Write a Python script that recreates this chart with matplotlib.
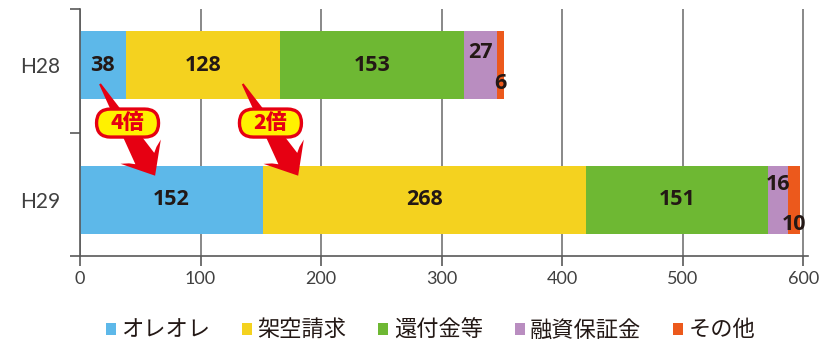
import matplotlib
matplotlib.use("Agg")
import numpy as np
import matplotlib.pyplot as plt
from matplotlib.patches import Patch, Polygon, FancyBboxPatch
from matplotlib.transforms import IdentityTransform, Affine2D

# Fraud cases by type (counts)
years = ["H28", "H29"]
categories = ["オレオレ", "架空請求", "還付金等", "融資保証金", "その他"]
h28 = [38, 128, 153, 27, 6]
h29 = [152, 268, 151, 16, 10]
colors = ["#5db8e9", "#f4d21f", "#6eb833", "#b98dc0", "#ec591c"]
xticks = [0, 100, 200, 300, 400, 500, 600]
ratios = ["4倍", "2倍"]

plt.rcParams["font.family"] = ["Noto Sans CJK JP", "DejaVu Sans"]

fig = plt.figure(figsize=(8.2, 3.47), dpi=100)
W, H = 820, 347
ax = fig.add_axes([80 / W, 1 - 256 / H, (808 - 80) / W, (256 - 9) / H])

ypos = {"H28": 1, "H29": 0}
series = {"H28": h28, "H29": h29}
bar_h = 0.504
txt_color = "#231815"
red = "#e60012"

# vertical label offsets (points) for the thin segments at the bar ends
small_off = {("H28", 3): 9, ("H28", 4): -13, ("H29", 3): 11, ("H29", 4): -18}

for yr in years:
    left = 0
    for i, v in enumerate(series[yr]):
        ax.barh(ypos[yr], v, left=left, height=bar_h, color=colors[i],
                edgecolor="none", zorder=2)
        dy = small_off.get((yr, i), 0)
        ax.annotate(str(v), (left + v / 2, ypos[yr]), xytext=(0, dy),
                    textcoords="offset points", ha="center", va="center",
                    fontsize=15.5, fontweight="bold", color=txt_color,
                    family=["Open Sans", "DejaVu Sans"], zorder=5)
        left += v

ax.set_xlim(0, 604)
ax.set_ylim(-0.415, 1.415)
ax.set_xticks(xticks)
ax.set_xticklabels([str(t) for t in xticks], fontsize=13, color="#404040",
                   family=["Lato", "DejaVu Sans"])
ax.tick_params(axis="x", length=7, width=1.2, color="#595959", pad=4)
ax.xaxis.grid(True, color="#7f7f7f", linewidth=1.3, zorder=0)
ax.set_axisbelow(True)

ax.set_yticks([-0.415, 0.5, 1.415])
ax.set_yticklabels([])
ax.set_yticks([0, 1], minor=True)
ax.set_yticklabels(["H29", "H28"], minor=True, fontsize=15, color="#404040",
                   family=["Lato", "DejaVu Sans"])
ax.tick_params(axis="y", which="major", length=7, width=1.2, color="#595959")
ax.tick_params(axis="y", which="minor", length=0, pad=14)

for s in ["top", "right"]:
    ax.spines[s].set_visible(False)
for s in ["left", "bottom"]:
    ax.spines[s].set_color("#595959")
    ax.spines[s].set_linewidth(1.2)


def tapered_arrow(p0, p1):
    """Arrow outline in display pixels: pointed tail, widening shaft, barbed head."""
    a = ax.transData.transform(p0)
    b = ax.transData.transform(p1)
    d = b - a
    L = np.hypot(*d)
    u = d / L
    n = np.array([-u[1], u[0]])
    prof = [(0, 1.0), (L - 20, 11), (L - 24, 16), (L - 28, 23.5), (L, 0),
            (L - 28, -23.5), (L - 24, -16), (L - 20, -11), (0, -1.0)]
    return np.array([a + s * u + t * n for s, t in prof])


# growth arrows from H28 to H29 segments
arrow_specs = [((16.6, 0.86), (62.3, 0.18)), ((135.0, 0.86), (181.0, 0.18))]
for (start, end), txt in zip(arrow_specs, ratios):
    pts = tapered_arrow(start, end)
    ax.add_patch(Polygon(pts, closed=True, fc=red, ec="none", zorder=6,
                         transform=IdentityTransform(), clip_on=False))
    cx = (start[0] + end[0]) / 2
    cy = 0.57
    px, py = ax.transData.transform((cx, cy))
    box = FancyBboxPatch((-31, -14), 62, 28,
                         boxstyle="round,pad=0,rounding_size=14",
                         fc="#fff100", ec=red, lw=2.4, zorder=7,
                         transform=Affine2D().translate(px, py), clip_on=False)
    ax.add_patch(box)
    ax.text(cx, cy, txt, ha="center", va="center", fontsize=15,
            fontweight="black", color=red, zorder=8,
            family=["Noto Sans CJK JP"])

handles = [Patch(facecolor=c, edgecolor="none") for c in colors]
fig.legend(handles, categories, loc="center", bbox_to_anchor=(0.525, 1 - 330 / H),
           ncol=5, frameon=False, fontsize=16, handlelength=0.45,
           handleheight=0.45, handletextpad=0.25, columnspacing=1.43,
           labelcolor=txt_color)

fig.savefig("out.png", dpi=100)
